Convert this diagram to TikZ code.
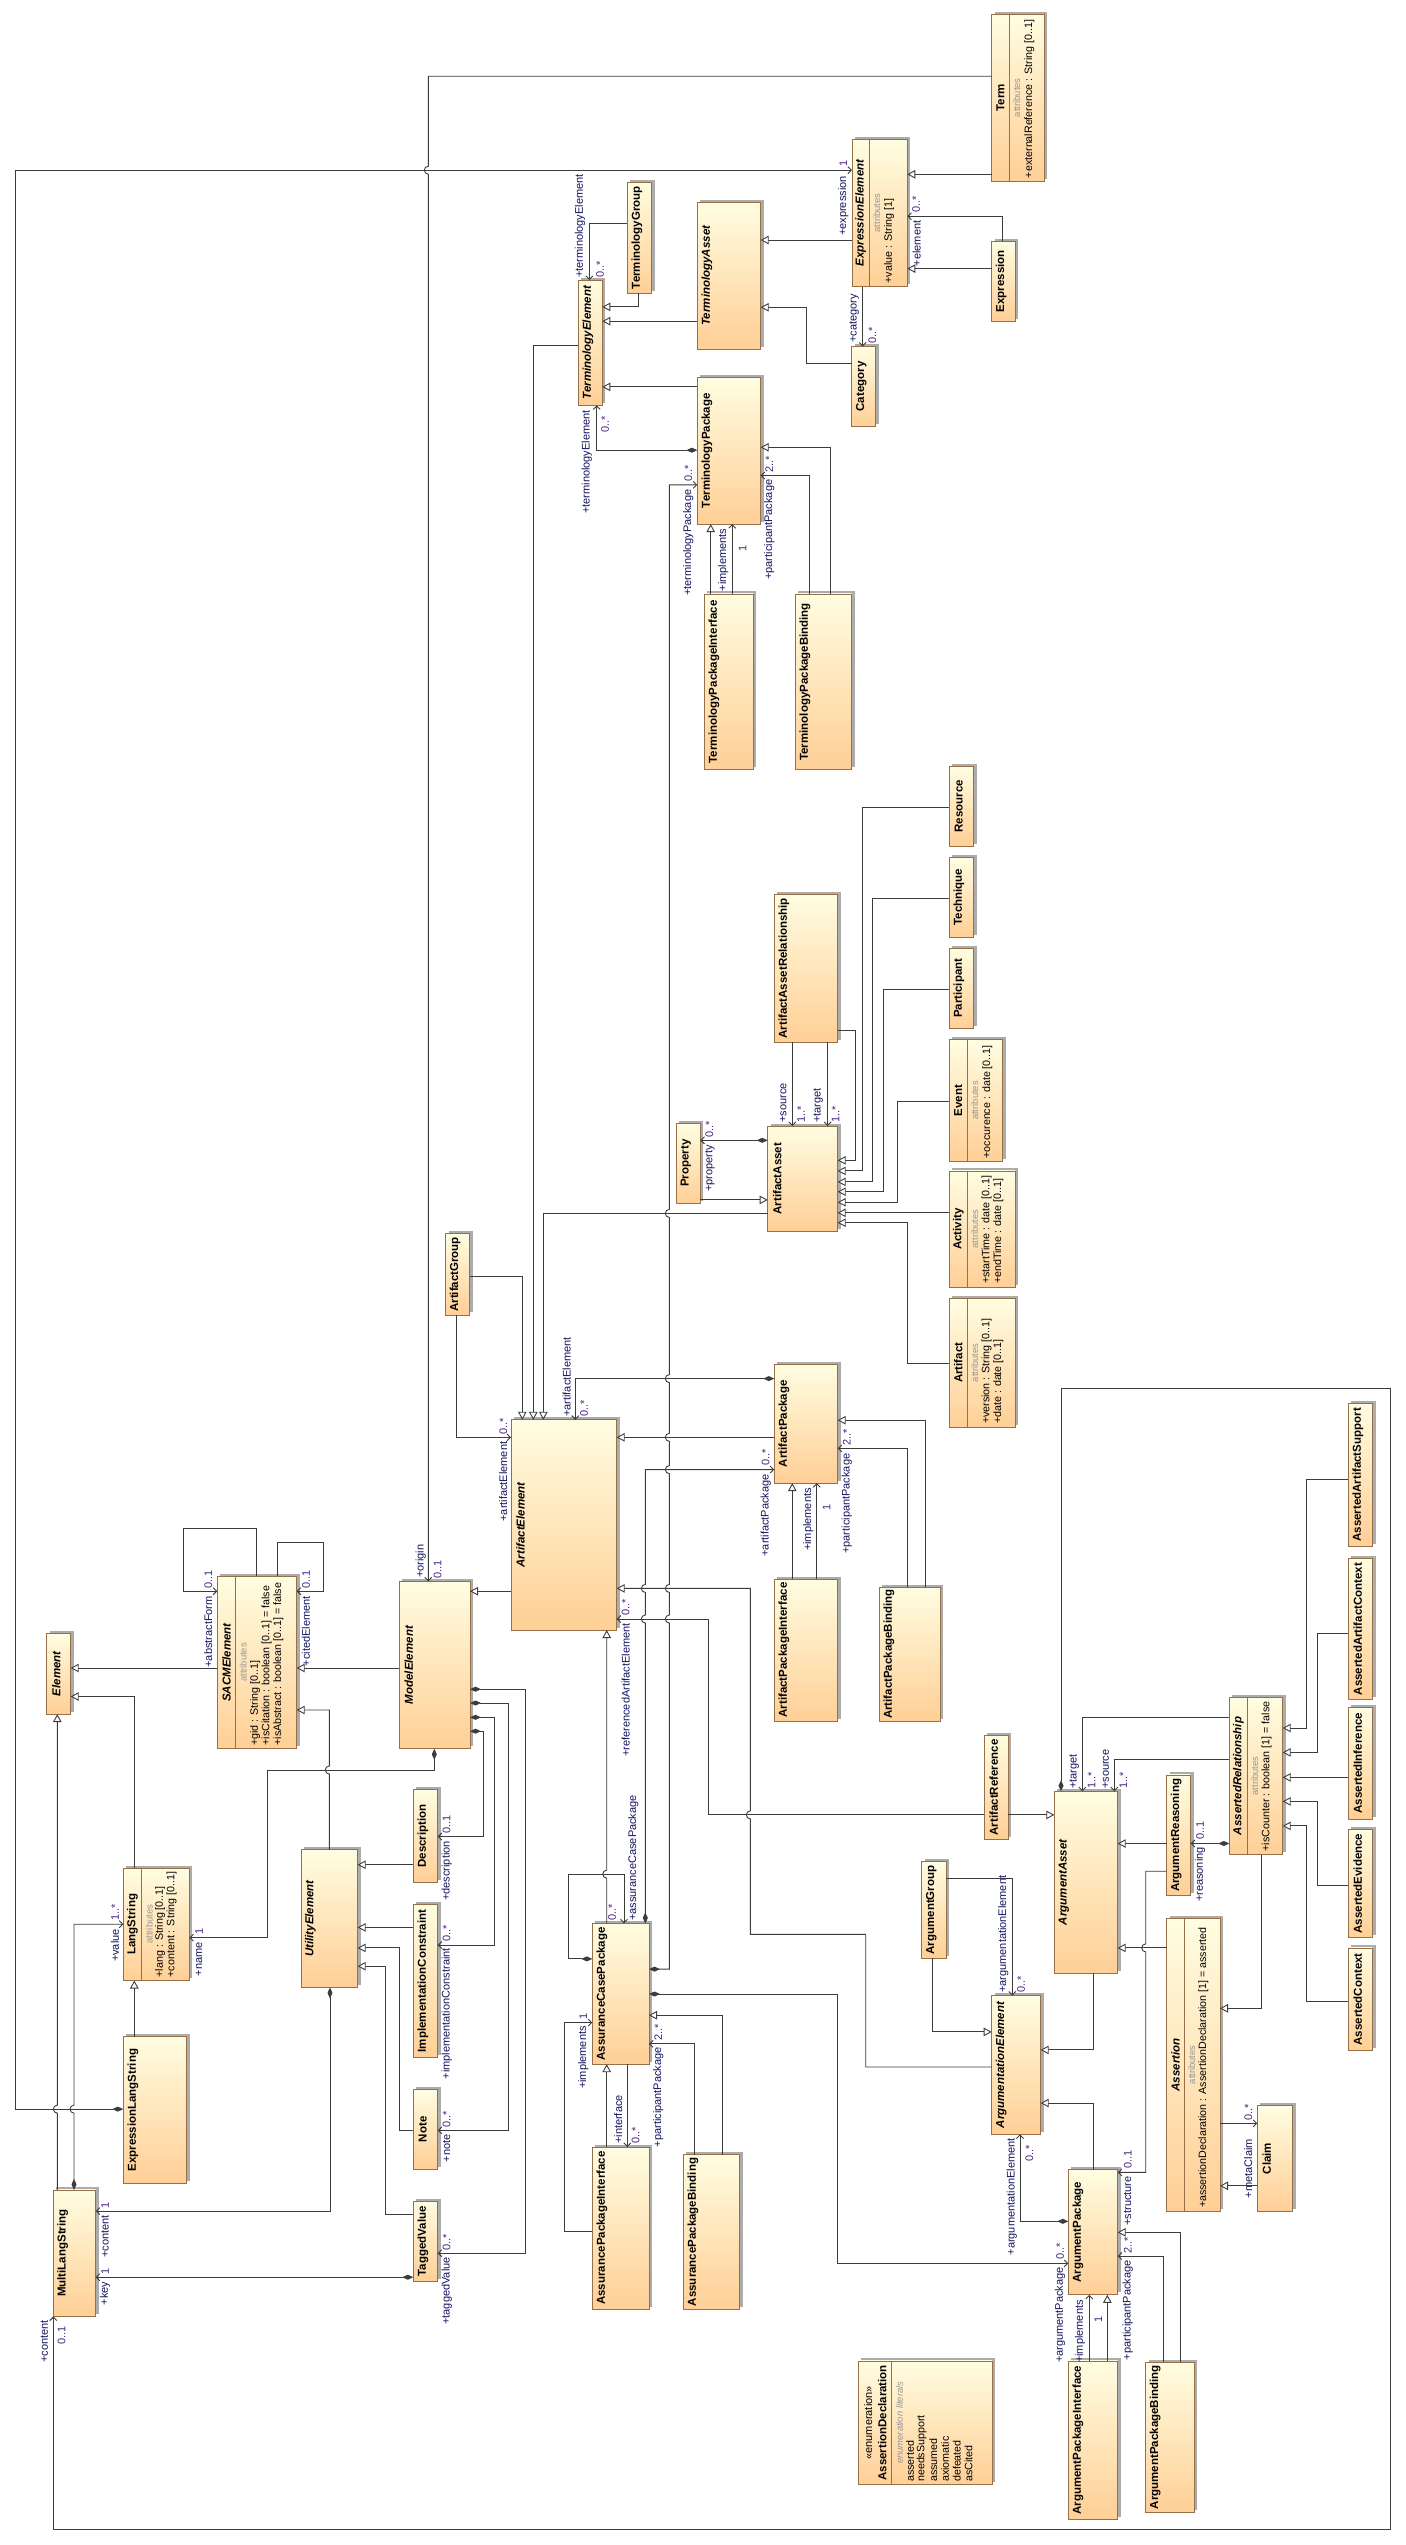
\documentclass[tikz,border=0pt]{standalone}
\usepackage{fontspec}
\setmainfont{Liberation Sans}
\usetikzlibrary{arrows.meta}
\definecolor{boxtop}{RGB}{255,253,225}
\definecolor{boxbot}{RGB}{255,207,150}
\definecolor{boxline}{RGB}{150,112,72}
\definecolor{shadec}{RGB}{172,172,172}
\definecolor{linec}{RGB}{60,60,60}
\definecolor{rolec}{RGB}{20,20,95}
\definecolor{multc}{RGB}{75,35,130}
\definecolor{graytxt}{RGB}{150,150,150}
\tikzset{
  clsbox/.style={draw=boxline, line width=0.8pt, top color=boxtop, bottom color=boxbot, inner sep=0pt, outer sep=0pt, anchor=north west},
  nm/.style={rotate=90, inner sep=0pt, font=\fontsize{11.5}{13}\selectfont\bfseries},
  stx/.style={rotate=90, inner sep=0pt, font=\fontsize{11}{13}\selectfont},
  attrtxt/.style={rotate=90, inner sep=0pt, anchor=west, font=\fontsize{10.7}{12}\selectfont},
  attrlbl/.style={rotate=90, inner sep=0pt, text=graytxt, font=\fontsize{9.4}{11}\selectfont},
  rl/.style={rotate=90, inner sep=0pt, text=rolec, font=\fontsize{11}{13}\selectfont},
  ml/.style={rotate=90, inner sep=0pt, text=multc, font=\fontsize{11}{13}\selectfont},
  conn/.style={draw=linec, line width=0.9pt},
  gen/.style={conn, -{Triangle[open, fill=white, length=8pt, width=8.5pt]}},
  nav/.style={conn, -{Straight Barb[length=3.5pt, width=7pt]}},
  comp/.style={conn, {Diamond[length=11pt, width=5pt]}-{Straight Barb[length=3.5pt, width=7pt]}},
}
\newcommand\clsA[6]{%
  \fill[shadec] ({#2+3},{#3-2.5}) rectangle ({#4+3},{#5-2.5});
  \node[clsbox, minimum width={#4-#2}, minimum height={#5-#3}] (#1) at (#2,#3) {};
  \node[nm] (#1-n) at ({#2+9.5},{(#3+#5)/2}) {#6};}
\newcommand\clsB[7]{%
  \fill[shadec] ({#2+3},{#3-2.5}) rectangle ({#4+3},{#5-2.5});
  \node[clsbox, minimum width={#4-#2}, minimum height={#5-#3}] (#1) at (#2,#3) {};
  \draw[boxline, line width=0.8pt] (#6,#3) -- (#6,#5);
  \node[nm] (#1-n) at ({(#2+#6)/2},{(#3+#5)/2}) {#7};
  \node[attrlbl] (#1-a) at ({#6+7.5},{(#3+#5)/2}) {attributes};}
\newcommand\hopD[2]{-- (#1,{#2-4}) arc[start angle=270,end angle=90,radius=4]}
\newcommand\hopU[2]{-- (#1,{#2+4}) arc[start angle=90,end angle=270,radius=4]}
\begin{document}
\begin{tikzpicture}[x=1pt,y=-1pt]
\useasboundingbox (0,0) rectangle (1405,2545);
\fill[white] (0,0) rectangle (1405,2545);
% ---------------- classes ----------------
\clsB{Term}{991.7}{14.3}{1044.3}{181.2}{1009.3}{Term}
\node[attrtxt] (Term-a1) at (1029.3,178.2) {+externalReference : String [0..1]};
\clsB{EE}{852}{139.6}{907.3}{286.5}{869.3}{\itshape ExpressionElement}
\node[attrtxt] (EE-a1) at (889,283.5) {+value : String [1]};
\clsA{Expr}{991.7}{241.2}{1015.3}{321.2}{Expression}
\clsA{TG}{627.3}{182.4}{651.7}{293.1}{TerminologyGroup}
\clsA{TE}{578.3}{280}{602.3}{405.3}{\itshape TerminologyElement}
\clsA{TA}{697.3}{202}{760.7}{349.4}{\itshape TerminologyAsset}
\clsA{Cat}{851.7}{346.5}{875.7}{426.5}{Category}
\clsA{TP}{697.3}{377.1}{760.7}{524.1}{TerminologyPackage}
\clsA{TPI}{704.3}{593.9}{753.3}{769.7}{TerminologyPackageInterface}
\clsA{TPB}{795.3}{593.9}{851.7}{769.7}{TerminologyPackageBinding}
\clsA{Res}{949.3}{766}{973.7}{846.4}{Resource}
\clsA{Tech}{949.3}{857.4}{973.7}{937}{Technique}
\clsA{Part}{949.3}{948.5}{973.7}{1028}{Participant}
\clsB{Event}{949.3}{1039.5}{1002.7}{1161.5}{967.3}{Event}
\node[attrtxt] (Event-a1) at (987.3,1158.5) {+occurence : date [0..1]};
\clsB{Act}{949.3}{1170.9}{1015.3}{1287.1}{967.3}{Activity}
\node[attrtxt] (Act-a1) at (986.7,1284.1) {+startTime : date [0..1]};
\node[attrtxt] (Act-a2) at (998.3,1284.1) {+endTime : date [0..1]};
\clsB{Art}{949.3}{1298.6}{1015.3}{1427.1}{967.3}{Artifact}
\node[attrtxt] (Art-a1) at (986.7,1424.1) {+version : String [0..1]};
\node[attrtxt] (Art-a2) at (998.3,1424.1) {+date : date [0..1]};
\clsA{ARel}{774.3}{894.2}{837.7}{1042.3}{ArtifactAssetRelationship}
\clsA{Prop}{676.3}{1123.2}{700.3}{1203.2}{Property}
\clsA{AA}{767.7}{1126}{837.7}{1231.3}{ArtifactAsset}
\clsA{AG}{445.7}{1233.8}{469.7}{1314.9}{ArtifactGroup}
\clsA{ArtE}{511}{1419.8}{616.7}{1630}{\itshape ArtifactElement}
\clsA{AP}{774.3}{1364.3}{837.7}{1483.1}{ArtifactPackage}
\clsA{API}{774.3}{1579}{837.7}{1721}{ArtifactPackageInterface}
\clsA{APB}{879.3}{1587.1}{940}{1721}{ArtifactPackageBinding}
\clsA{El}{46.7}{1633.3}{70.7}{1714.1}{\itshape Element}
\clsB{SE}{217.3}{1576.1}{296.7}{1748.8}{235.7}{\itshape SACMElement}
\node[attrtxt] (SE-a1) at (255,1745.8) {+gid : String [0..1]};
\node[attrtxt] (SE-a2) at (266.7,1745.8) {+isCitation : boolean [0..1] = false};
\node[attrtxt] (SE-a3) at (278.3,1745.8) {+isAbstract : boolean [0..1] = false};
\clsA{ME}{399.3}{1581.4}{470}{1748.8}{\itshape ModelElement}
\clsA{Desc}{413.3}{1789.6}{437.7}{1882.2}{Description}
\clsA{IC}{413.3}{1904.7}{437.7}{2057.2}{ImplementationConstraint}
\clsA{Note}{413.3}{2089.1}{437.7}{2169.5}{Note}
\clsA{TV}{413.3}{2201.3}{437.7}{2281.3}{TaggedValue}
\clsA{UE}{301}{1849.6}{357.7}{1987.4}{\itshape UtilityElement}
\clsB{LS}{123.3}{1868}{189.3}{1980.5}{141.7}{LangString}
\node[attrtxt] (LS-a1) at (160,1977.5) {+lang : String [0..1]};
\node[attrtxt] (LS-a2) at (171.7,1977.5) {+content : String [0..1]};
\clsA{ELS}{123.3}{2036.8}{186.7}{2183.4}{ExpressionLangString}
\clsA{MLS}{53.3}{2189.9}{95.7}{2316.4}{MultiLangString}
\clsA{ACP}{592.3}{1923.4}{649}{2064.2}{AssuranceCasePackage}
\clsA{AsPI}{592.3}{2147}{649}{2309.1}{AssurancePackageInterface}
\clsA{AsPB}{683.3}{2154.8}{739.7}{2309.1}{AssurancePackageBinding}
\clsA{AGr}{921.7}{1861.8}{946}{1958.1}{ArgumentGroup}
\clsA{ArgE}{991.7}{1995.6}{1040.7}{2134.4}{\itshape ArgumentationElement}
\clsA{ArgA}{1054.3}{1791.2}{1117.7}{1973.2}{\itshape ArgumentAsset}
\clsA{ARef}{984.3}{1735.3}{1008.3}{1839.4}{ArtifactReference}
\clsA{ARn}{1166.7}{1774.9}{1190.7}{1895.7}{ArgumentReasoning}
\clsB{AsR}{1229.3}{1697.3}{1282.7}{1854.5}{1247.3}{\itshape AssertedRelationship}
\node[attrtxt] (AsR-a1) at (1266.7,1851.5) {+isCounter : boolean [1] = false};
\clsA{AAS}{1348.3}{1403.5}{1372.7}{1546.3}{AssertedArtifactSupport}
\clsA{AAC}{1348.3}{1558.2}{1372.7}{1699.8}{AssertedArtifactContext}
\clsA{AI}{1348.3}{1707.5}{1372.7}{1819}{AssertedInference}
\clsA{AEv}{1348.3}{1829.2}{1372.7}{1937.7}{AssertedEvidence}
\clsA{ACx}{1348.3}{1947.9}{1372.7}{2050.7}{AssertedContext}
\clsB{Asn}{1166.7}{1918.5}{1220}{2211.1}{1184.3}{\itshape Assertion}
\node[attrtxt] (Asn-a1) at (1203.3,2208.1) {+assertionDeclaration : AssertionDeclaration [1] = asserted};
\clsA{Claim}{1257.3}{2105.8}{1292.7}{2211.1}{Claim}
\clsA{ArgP}{1068.3}{2169.5}{1117.7}{2294.8}{ArgumentPackage}
\clsA{ArgPI}{1068.3}{2360.9}{1117.7}{2519.3}{ArgumentPackageInterface}
\clsA{ArgPB}{1145.7}{2362.1}{1194.3}{2512.3}{ArgumentPackageBinding}
% enumeration
\fill[shadec] (861.3,2358.4) rectangle (995.3,2482.1);
\node[clsbox, minimum width=134, minimum height=123.7] (AD) at (858.3,2360.9) {};
\draw[boxline, line width=0.8pt] (891.7,2360.9) -- (891.7,2484.6);
\node[stx] (AD-s) at (868.3,2422.8) {«enumeration»};
\node[nm] (AD-n) at (882.3,2422.8) {AssertionDeclaration};
\node[attrlbl, font=\fontsize{9.4}{11}\selectfont\itshape] (AD-l) at (899.5,2422.8) {enumeration literals};
\node[attrtxt] (AD-1) at (910,2482) {asserted};
\node[attrtxt] (AD-2) at (921.7,2482) {needsSupport};
\node[attrtxt] (AD-3) at (933.4,2482) {assumed};
\node[attrtxt] (AD-4) at (945.1,2482) {axiomatic};
\node[attrtxt] (AD-5) at (956.8,2482) {defeated};
\node[attrtxt] (AD-6) at (968.5,2482) {asCited};
% ---------------- connectors ----------------
% terminology
\draw[nav] (Term.west |- 0,76.3) -- (428.3,76.3) \hopD{428.3}{170.2} -- (ME.north -| 428.3,0);
\draw[gen] (Term.west |- 0,174.3) -- (EE.east |- 0,174.3);
\draw[nav] (Expr.north -| 1002.7,0) -- (1002.7,216.3) -- (EE.east |- 0,216.3);
\draw[gen] (Expr.west |- 0,268.6) -- (EE.east |- 0,268.6);
\draw[comp] (ELS.west |- 0,2109.1) -- (15.3,2109.1) -- (15.3,170.2) -- (EE.west |- 0,170.2);
\draw[gen] (EE.west |- 0,240) -- (TA.east |- 0,240);
\draw[gen] (Cat.west |- 0,363.3) -- (806.7,363.3) -- (806.7,307.3) -- (TA.east |- 0,307.3);
\draw[nav] (EE.south -| 862.7,0) -- (Cat.north -| 862.7,0);
\draw[gen] (TA.west |- 0,321.2) -- (TE.east |- 0,321.2);
\draw[gen] (TG.south -| 638.3,0) -- (638.3,306.9) -- (TE.east |- 0,306.9);
\draw[nav] (TG.west |- 0,223.3) -- (589.3,223.3) -- (TE.north -| 589.3,0);
\draw[gen] (TP.west |- 0,386.9) -- (TE.east |- 0,386.9);
\draw[comp] (TP.west |- 0,450.2) -- (596.7,450.2) -- (TE.south -| 596.7,0);
\draw[gen] (TE.west |- 0,345.3) -- (533.3,345.3) -- (ArtE.north -| 533.3,0);
\draw[gen] (TPI.north -| 710.7,0) -- (TP.south -| 710.7,0);
\draw[nav] (TPI.north -| 732.3,0) -- (TP.south -| 732.3,0);
\draw[gen] (TPB.north -| 830.3,0) -- (830.3,447.3) -- (TP.east |- 0,447.3);
\draw[nav] (TPB.north -| 809.3,0) -- (809.3,475.5) -- (TP.east |- 0,475.5);
\draw[comp] (ACP.east |- 0,1969.1) -- (669.3,1969.1) \hopU{669.3}{1619} \hopU{669.3}{1588.4} \hopU{669.3}{1469.6} \hopU{669.3}{1437.3} \hopU{669.3}{1378.6} \hopU{669.3}{1213.4} -- (669.3,484.9) -- (TP.west |- 0,484.9);
% artifact
\draw[comp] (AA.west |- 0,1140.3) -- (Prop.east |- 0,1140.3);
\draw[gen] (Prop.east |- 0,1199.9) -- (AA.west |- 0,1199.9);
\draw[nav] (ARel.south -| 792.3,0) -- (AA.north -| 792.3,0);
\draw[nav] (ARel.south -| 827.7,0) -- (AA.north -| 827.7,0);
\draw[gen] (ARel.east |- 0,1030.9) -- (855.7,1030.9) -- (855.7,1160.3) -- (AA.east |- 0,1160.3);
\draw[gen] (Res.west |- 0,807.2) -- (862.3,807.2) -- (862.3,1170.9) -- (AA.east |- 0,1170.9);
\draw[gen] (Tech.west |- 0,898.3) -- (872.3,898.3) -- (872.3,1181.9) -- (AA.east |- 0,1181.9);
\draw[gen] (Part.west |- 0,989.3) -- (883.3,989.3) -- (883.3,1191.7) -- (AA.east |- 0,1191.7);
\draw[gen] (Event.west |- 0,1101.1) -- (897.3,1101.1) -- (897.3,1202.3) -- (AA.east |- 0,1202.3);
\draw[gen] (Act.west |- 0,1212.8) -- (AA.east |- 0,1212.8);
\draw[gen] (Art.west |- 0,1363.9) -- (907.3,1363.9) -- (907.3,1222.7) -- (AA.east |- 0,1222.7);
\draw[gen] (AA.west |- 0,1213.4) -- (543.3,1213.4) -- (ArtE.north -| 543.3,0);
\draw[gen] (AG.east |- 0,1276.1) -- (522.3,1276.1) -- (ArtE.north -| 522.3,0);
\draw[nav] (AG.south -| 456.7,0) -- (456.7,1437.3) -- (ArtE.west |- 0,1437.3);
\draw[comp] (AP.west |- 0,1378.6) -- (575.3,1378.6) -- (ArtE.north -| 575.3,0);
\draw[gen] (AP.west |- 0,1437.3) -- (ArtE.east |- 0,1437.3);
\draw[comp] (ACP.north -| 645.3,0) \hopU{645.3}{1619} \hopU{645.3}{1588.4} -- (645.3,1469.6) -- (AP.west |- 0,1469.6);
\draw[gen] (API.north -| 792.3,0) -- (AP.south -| 792.3,0);
\draw[nav] (API.north -| 816.7,0) -- (AP.south -| 816.7,0);
\draw[gen] (APB.north -| 925.3,0) -- (925.3,1420.2) -- (AP.east |- 0,1420.2);
\draw[nav] (APB.north -| 907.3,0) -- (907.3,1448.4) -- (AP.east |- 0,1448.4);
\draw[gen] (ArgE.west |- 0,2067) -- (865.7,2067) -- (865.7,1934.4) -- (750.3,1934.4) \hopU{750.3}{1814.9} -- (750.3,1588.4) -- (ArtE.east |- 0,1588.4);
\draw[nav] (ARef.west |- 0,1814.9) -- (708.3,1814.9) -- (708.3,1619) -- (ArtE.east |- 0,1619);
\draw[gen] (ARef.east |- 0,1814.9) -- (ArgA.west |- 0,1814.9);
\draw[gen] (ACP.north -| 606.7,0) \hopU{606.7}{1874.1} -- (ArtE.south -| 606.7,0);
\draw[comp] (ACP.west |- 0,1958.9) -- (568.3,1958.9) -- (568.3,1874.1) -- (624,1874.1) -- (ACP.north -| 624,0);
\draw[gen] (ArtE.west |- 0,1591.2) -- (ME.east |- 0,1591.2);
% base
\draw[gen] (SE.west |- 0,1668) -- (El.east |- 0,1668);
\draw[gen] (ME.west |- 0,1668) -- (SE.east |- 0,1668);
\draw[nav] (SE.north -| 256.7,0) -- (256.7,1528.4) -- (183.3,1528.4) -- (183.3,1591.2) -- (SE.west |- 0,1591.2);
\draw[nav] (SE.north -| 277.3,0) -- (277.3,1542.2) -- (323.3,1542.2) -- (323.3,1591.2) -- (SE.east |- 0,1591.2);
\draw[gen] (UE.north -| 329.3,0) \hopU{329.3}{1770} -- (329.3,1710) -- (SE.east |- 0,1710);
\draw[comp] (ME.south -| 434.3,0) -- (434.3,1770) -- (267.7,1770) -- (267.7,1937.7) -- (LS.east |- 0,1937.7);
\draw[gen] (LS.north -| 134.3,0) -- (134.3,1696.5) -- (El.east |- 0,1696.5);
\draw[gen] (MLS.north -| 57.3,0) \hopU{57.3}{2109.1} -- (El.south -| 57.3,0);
\draw[comp] (MLS.north -| 74,0) \hopU{74}{2109.1} -- (74,1924.2) -- (LS.west |- 0,1924.2);
\draw[gen] (ELS.north -| 134.3,0) -- (LS.south -| 134.3,0);
\draw[comp] (UE.south -| 330,0) -- (330,2211.1) -- (MLS.east |- 0,2211.1);
\draw[comp] (TV.west |- 0,2277.2) -- (MLS.east |- 0,2277.2);
\draw[gen] (Desc.west |- 0,1864.7) -- (UE.east |- 0,1864.7);
\draw[gen] (IC.west |- 0,1927.4) -- (UE.east |- 0,1927.4);
\draw[gen] (Note.west |- 0,2130.3) -- (399.3,2130.3) -- (399.3,1947.9) -- (UE.east |- 0,1947.9);
\draw[gen] (TV.west |- 0,2214) -- (385.7,2214) -- (385.7,1966.2) -- (UE.east |- 0,1966.2);
\draw[comp] (ME.east |- 0,1731.2) -- (483.3,1731.2) -- (483.3,1836.5) -- (Desc.east |- 0,1836.5);
\draw[comp] (ME.east |- 0,1717.3) -- (494.3,1717.3) -- (494.3,1945) -- (IC.east |- 0,1945);
\draw[comp] (ME.east |- 0,1703) -- (508.3,1703) -- (508.3,2130.3) -- (Note.east |- 0,2130.3);
\draw[comp] (ME.east |- 0,1689.2) -- (525,1689.2) -- (525,2253.2) -- (TV.east |- 0,2253.2);
\draw[comp] (ArgA.north -| 1061,0) -- (1061,1388.4) -- (1390.3,1388.4) -- (1390.3,2529.5) -- (53.3,2529.5) -- (MLS.south -| 53.3,0);
% assurance case package
\draw[comp] (ACP.east |- 0,1994) -- (837.7,1994) -- (837.7,2263.4) -- (ArgP.west |- 0,2263.4);
\draw[gen] (AsPB.north -| 722.3,0) -- (722.3,2015.2) -- (ACP.east |- 0,2015.2);
\draw[nav] (AsPB.north -| 694.3,0) -- (694.3,2043.8) -- (ACP.east |- 0,2043.8);
\draw[gen] (AsPI.north -| 606.7,0) -- (ACP.south -| 606.7,0);
\draw[nav] (ACP.south -| 627.3,0) -- (AsPI.north -| 627.3,0);
\draw[nav] (AsPI.west |- 0,2231.5) -- (564.3,2231.5) -- (564.3,2022.6) -- (ACP.west |- 0,2022.6);
% argumentation
\draw[gen] (AGr.south -| 932.3,0) -- (932.3,2031.9) -- (ArgE.west |- 0,2031.9);
\draw[nav] (AGr.east |- 0,1878.2) -- (1012.3,1878.2) -- (ArgE.north -| 1012.3,0);
\draw[gen] (ArgA.south -| 1093.3,0) -- (1093.3,2049.9) -- (ArgE.east |- 0,2049.9);
\draw[gen] (ArgP.north -| 1093.3,0) -- (1093.3,2103) -- (ArgE.east |- 0,2103);
\draw[comp] (ArgP.west |- 0,2221.3) -- (1020,2221.3) -- (ArgE.south -| 1020,0);
\draw[nav] (AsR.west |- 0,1717) -- (1082.3,1717) -- (ArgA.north -| 1082.3,0);
\draw[nav] (AsR.west |- 0,1759) -- (1114.3,1759) -- (ArgA.north -| 1114.3,0);
\draw[comp] (AsR.west |- 0,1843.5) -- (ARn.east |- 0,1843.5);
\draw[gen] (ARn.west |- 0,1843.5) -- (ArgA.east |- 0,1843.5);
\draw[nav] (ARn.west |- 0,1871.2) -- (1145.7,1871.2) \hopD{1145.7}{1947.9} -- (1145.7,2172.3) -- (ArgP.east |- 0,2172.3);
\draw[gen] (AAS.west |- 0,1479.4) -- (1306.7,1479.4) -- (1306.7,1728) -- (AsR.east |- 0,1728);
\draw[gen] (AAC.west |- 0,1633.3) -- (1317.3,1633.3) -- (1317.3,1752.4) -- (AsR.east |- 0,1752.4);
\draw[gen] (AI.west |- 0,1777.4) -- (AsR.east |- 0,1777.4);
\draw[gen] (AEv.west |- 0,1885.1) -- (1317.3,1885.1) -- (1317.3,1801.4) -- (AsR.east |- 0,1801.4);
\draw[gen] (ACx.west |- 0,2001.7) -- (1306.7,2001.7) -- (1306.7,1825.9) -- (AsR.east |- 0,1825.9);
\draw[gen] (AsR.south -| 1261.7,0) -- (1261.7,2008.3) -- (Asn.east |- 0,2008.3);
\draw[gen] (Asn.west |- 0,1947.9) -- (ArgA.east |- 0,1947.9);
\draw[nav] (Asn.east |- 0,2123.4) -- (Claim.west |- 0,2123.4);
\draw[gen] (Claim.west |- 0,2185.8) -- (Asn.east |- 0,2185.8);
\draw[gen] (ArgPI.north -| 1107.3,0) -- (ArgP.south -| 1107.3,0);
\draw[nav] (ArgPI.north -| 1089.3,0) -- (ArgP.south -| 1089.3,0);
\draw[gen] (ArgPB.north -| 1180.7,0) -- (1180.7,2232.3) -- (ArgP.east |- 0,2232.3);
\draw[nav] (ArgPB.north -| 1163.3,0) -- (1163.3,2256) -- (ArgP.east |- 0,2256);
% ---------------- role / multiplicity labels ----------------
\node[rl,anchor=west] (l1) at (580,278) {+terminologyElement};
\node[ml,anchor=west] (m1) at (600,278) {0..*};
\node[rl,anchor=east] (l2) at (843.3,176) {+expression};
\node[ml,anchor=west] (m2) at (843.3,167) {1};
\node[rl,anchor=east] (l3) at (916.7,220.5) {+element};
\node[ml,anchor=west] (m3) at (916,213) {0..*};
\node[rl,anchor=west] (l4) at (854.3,343) {+category};
\node[ml,anchor=west] (m4) at (872.3,344) {0..*};
\node[rl,anchor=east] (l5) at (586.7,410) {+terminologyElement};
\node[ml,anchor=east] (m5) at (605,416) {0..*};
\node[rl,anchor=east] (l6) at (688.3,489.5) {+terminologyPackage};
\node[ml,anchor=west] (m6) at (688.3,482) {0..*};
\node[rl,anchor=east] (l7) at (723.3,528.5) {+implements};
\node[ml] (m7) at (742.7,548) {1};
\node[rl,anchor=east] (l8) at (769.3,479.5) {+participantPackage};
\node[ml,anchor=west] (m8) at (769.3,473) {2..*};
\node[rl,anchor=west] (l9) at (783.3,1123) {+source};
\node[ml,anchor=west] (m9) at (801,1123) {1..*};
\node[rl,anchor=west] (l10) at (818.3,1123) {+target};
\node[ml,anchor=west] (m10) at (835.5,1123) {1..*};
\node[rl,anchor=east] (l11) at (710,1145) {+property};
\node[ml,anchor=west] (m11) at (709.3,1138) {0..*};
\node[rl,anchor=east] (l12) at (208.3,1596) {+abstractForm};
\node[ml,anchor=west] (m12) at (208.3,1589) {0..1};
\node[rl,anchor=east] (l13) at (306,1596) {+citedElement};
\node[ml,anchor=west] (m13) at (306,1589) {0..1};
\node[rl,anchor=west] (l14) at (420.7,1578) {+origin};
\node[ml,anchor=west] (m14) at (437.7,1578.5) {0..1};
\node[rl,anchor=east] (l15) at (446.7,1841) {+description};
\node[ml,anchor=west] (m15) at (446.7,1833.5) {0..1};
\node[rl,anchor=east] (l16) at (503.3,1441.5) {+artifactElement};
\node[ml,anchor=west] (m16) at (503.3,1435) {0..*};
\node[rl,anchor=west] (l17) at (566.7,1417) {+artifactElement};
\node[ml,anchor=west] (m17) at (584,1417) {0..*};
\node[rl,anchor=east] (l18) at (765.7,1474) {+artifactPackage};
\node[ml,anchor=west] (m18) at (765.7,1466) {0..*};
\node[rl,anchor=east] (l19) at (808.3,1488) {+implements};
\node[ml] (m19) at (826.7,1507) {1};
\node[rl,anchor=east] (l20) at (846.7,1453.5) {+participantPackage};
\node[ml,anchor=west] (m20) at (846.7,1446) {2..*};
\node[rl,anchor=east] (l21) at (625.7,1623) {+referencedArtifactElement};
\node[ml,anchor=west] (m21) at (625.7,1616) {0..*};
\node[rl,anchor=west] (l22) at (633.3,1921) {+assuranceCasePackage};
\node[ml,anchor=west] (m22) at (612,1921) {0..*};
\node[rl,anchor=west] (l23) at (1074.3,1789) {+target};
\node[ml,anchor=west] (m23) at (1091.7,1789) {1..*};
\node[rl,anchor=west] (l24) at (1105.7,1789) {+source};
\node[ml,anchor=west] (m24) at (1123.3,1789) {1..*};
\node[rl,anchor=east] (l25) at (1200,1847) {+reasoning};
\node[ml,anchor=west] (m25) at (1200,1840) {0..1};
\node[rl,anchor=east] (l26) at (115,1929) {+value};
\node[ml,anchor=west] (m26) at (115,1921) {1..*};
\node[rl,anchor=east] (l27) at (199,1942) {+name};
\node[ml,anchor=west] (m27) at (199,1935) {1};
\node[rl,anchor=east] (l28) at (105,2215) {+content};
\node[ml,anchor=west] (m28) at (105,2208.5) {1};
\node[rl,anchor=east] (l29) at (105,2281.5) {+key};
\node[ml,anchor=west] (m29) at (105,2274.5) {1};
\node[rl,anchor=east] (l30) at (44.3,2320) {+content};
\node[ml,anchor=east] (m30) at (61.7,2326) {0..1};
\node[rl,anchor=east] (l31) at (446.7,1948) {+implementationConstraint};
\node[ml,anchor=west] (m31) at (446.7,1941.5) {0..*};
\node[rl,anchor=east] (l32) at (446.7,2134) {+note};
\node[ml,anchor=west] (m32) at (446.7,2127.5) {0..*};
\node[rl,anchor=east] (l33) at (446.7,2257) {+taggedValue};
\node[ml,anchor=west] (m33) at (446.7,2250.5) {0..*};
\node[rl,anchor=east] (l34) at (583.3,2026) {+implements};
\node[ml,anchor=west] (m34) at (583.3,2019.5) {1};
\node[rl,anchor=west] (l35) at (618.3,2144) {+interface};
\node[ml,anchor=west] (m35) at (635.7,2144) {0..*};
\node[rl,anchor=east] (l36) at (658.3,2047) {+participantPackage};
\node[ml,anchor=west] (m36) at (658.3,2040.5) {2..*};
\node[rl,anchor=west] (l37) at (1003.3,1993) {+argumentationElement};
\node[ml,anchor=west] (m37) at (1021,1993) {0..*};
\node[rl,anchor=east] (l38) at (1011.7,2138) {+argumentationElement};
\node[ml,anchor=east] (m38) at (1029.3,2145) {0..*};
\node[rl,anchor=east] (l39) at (1127.7,2176) {+structure};
\node[ml,anchor=west] (m39) at (1127.7,2169) {0..1};
\node[rl,anchor=east] (l40) at (1060,2267) {+argumentPackage};
\node[ml,anchor=west] (m40) at (1060,2260) {0..*};
\node[rl,anchor=east] (l41) at (1080,2300) {+implements};
\node[ml] (m41) at (1098.3,2319) {1};
\node[rl,anchor=east] (l42) at (1127.7,2260) {+participantPackage};
\node[ml,anchor=west] (m42) at (1127.7,2253.5) {2..*};
\node[rl,anchor=east] (l43) at (1248.3,2139) {+metaClaim};
\node[ml,anchor=west] (m43) at (1248.3,2121) {0..*};
\end{tikzpicture}
\end{document}
